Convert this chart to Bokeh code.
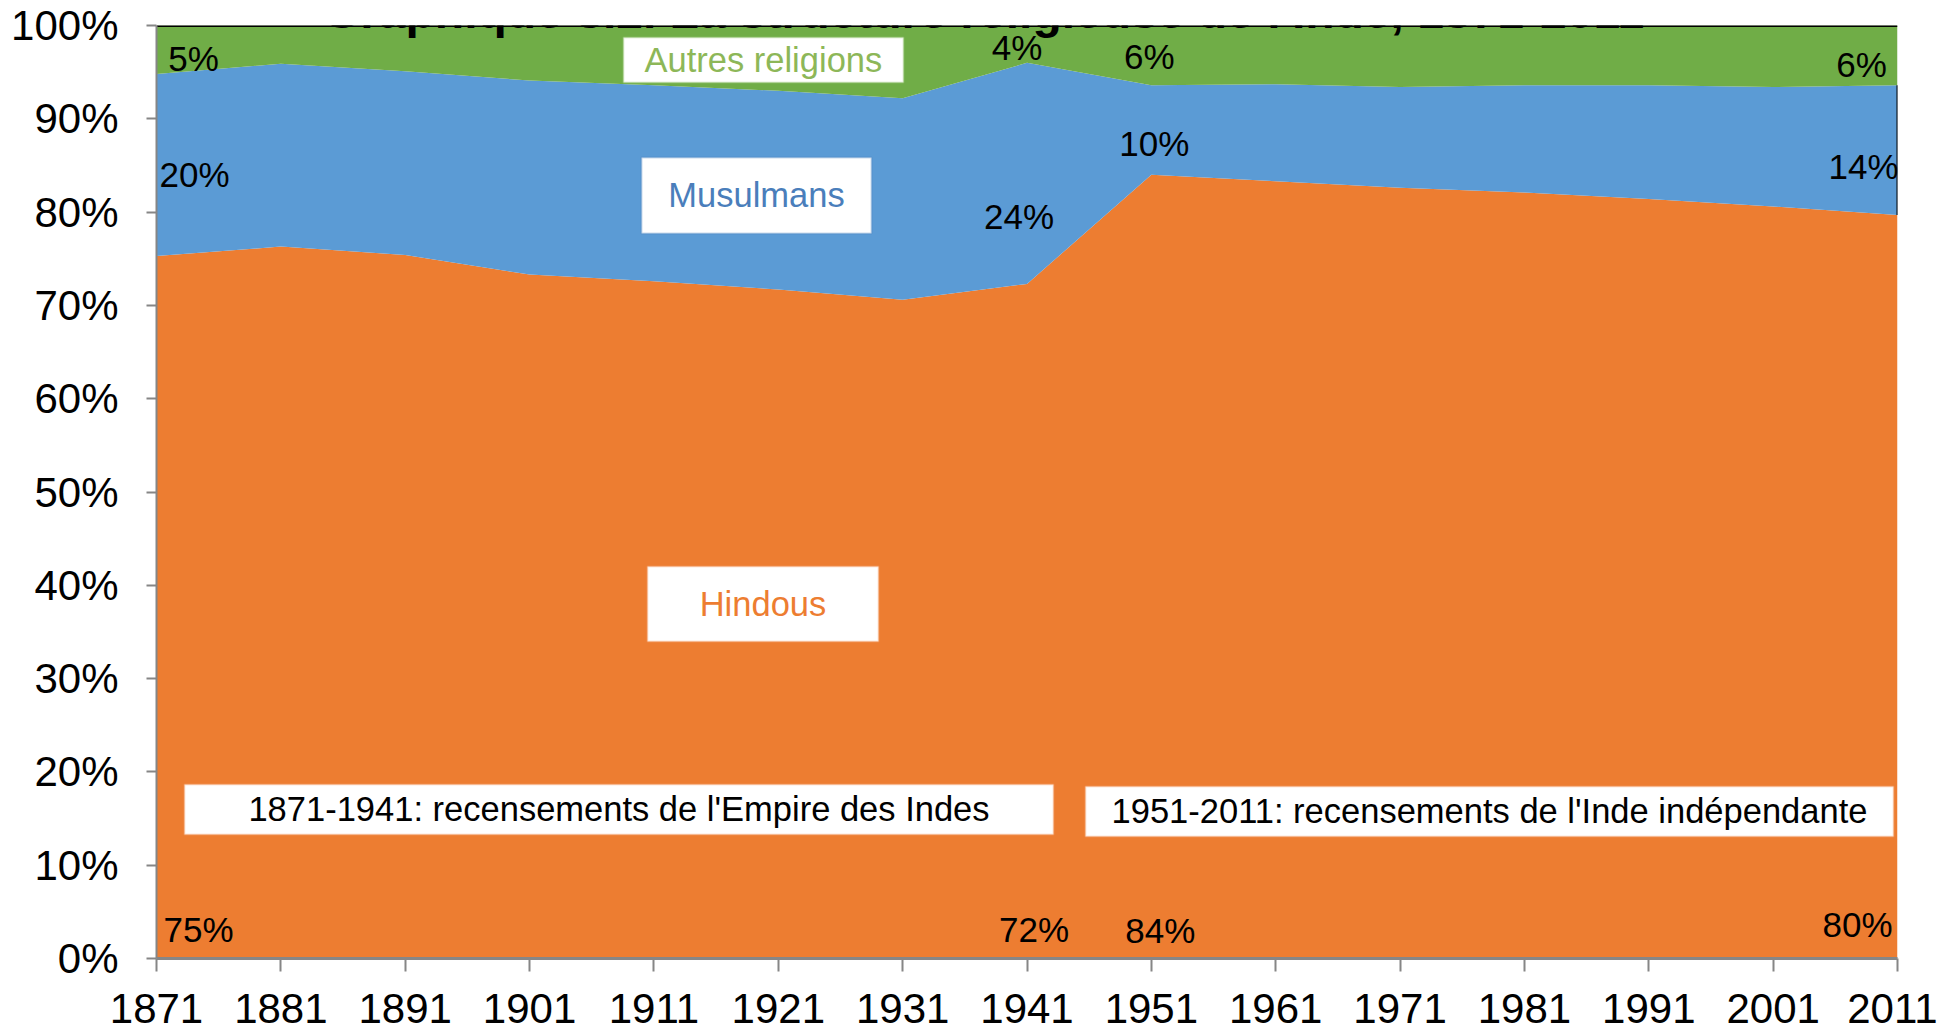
from bokeh.plotting import figure
from bokeh.models import (ColumnDataSource, FixedTicker, PrintfTickFormatter, Range1d,
                          BoxAnnotation, Label)
from bokeh.core.properties import value
from bokeh.embed import file_html
from bokeh.resources import INLINE

# ---------------- data ----------------
years = [1871, 1881, 1891, 1901, 1911, 1921, 1931, 1941, 1951, 1961, 1971, 1981, 1991, 2001, 2011]
hindous = [75.3, 76.3, 75.4, 73.3, 72.6, 71.7, 70.6, 72.3, 84.0, 83.3, 82.6, 82.1, 81.4, 80.6, 79.7]
musulmans = [19.5, 19.6, 19.7, 20.8, 21.0, 21.3, 21.6, 23.7, 9.6, 10.4, 10.8, 11.5, 12.2, 12.8, 13.9]
autres = [5.2, 4.1, 4.9, 5.9, 6.4, 7.0, 7.8, 4.0, 6.4, 6.3, 6.6, 6.4, 6.4, 6.6, 6.4]
label_years = [1871, 1941, 1951, 2011]
y_ticks = [0, 10, 20, 30, 40, 50, 60, 70, 80, 90, 100]

title_text = "Graphique 8.2. La structure religieuse de l'Inde, 1871-2011"
series_names = ["Hindous", "Musulmans", "Autres religions"]
period_texts = ["1871-1941: recensements de l'Empire des Indes",
                "1951-2011: recensements de l'Inde indépendante"]

ORANGE = "#ED7D31"
BLUE = "#5B9BD5"
GREEN = "#70AD47"
FONT = "Liberation Sans"

src = ColumnDataSource(dict(year=years, h=hindous, m=musulmans, o=autres))

p = figure(width=1945, height=1048, frame_width=1741, frame_height=933,
           output_backend="svg", toolbar_location=None,
           x_range=Range1d(1871, 2011), y_range=Range1d(0, 100),
           min_border_left=164, min_border_right=40, min_border_top=33, min_border_bottom=82,
           margin=(-8, -8, -8, -8))
p.outline_line_color = None
p.background_fill_color = "white"
p.border_fill_color = "white"
p.xgrid.visible = False
p.ygrid.visible = False

p.varea_stack(["h", "m", "o"], x="year", source=src, color=[ORANGE, BLUE, GREEN])

# series edges as in original (top black edge, right edge of muslim band)
tops = [h + m + o for h, m, o in zip(hindous, musulmans, autres)]
p.line(years, tops, line_color="black", line_width=3)
p.segment(x0=[years[-1]], y0=[hindous[-1]], x1=[years[-1]], y1=[hindous[-1] + musulmans[-1]],
          line_color="black", line_width=2)

# axes
p.xaxis.ticker = FixedTicker(ticks=years)
p.yaxis.ticker = FixedTicker(ticks=y_ticks)
p.yaxis.formatter = PrintfTickFormatter(format="%d%%")
for ax in (p.xaxis, p.yaxis):
    ax.axis_line_color = "#868686"
    ax.axis_line_width = 2
    ax.major_tick_line_color = "#868686"
    ax.major_tick_line_width = 2
    ax.minor_tick_line_color = None
    ax.major_tick_in = 0
    ax.major_label_text_font = FONT
    ax.major_label_text_font_size = "42px"
    ax.major_label_text_color = "black"
p.xaxis.major_tick_out = 13
p.xaxis.major_label_standoff = 22
p.xaxis.axis_line_width = 3
p.yaxis.major_tick_out = 10
p.yaxis.major_label_standoff = 28

# percentage labels derived from data
idx = [years.index(y) for y in label_years]
lx, ly, lt, xo, yo = [], [], [], [], []
h_xoff = [42, 7, 9, -40]
h_yoff = [-29, -29, -28, -34]
m_xoff = [38, -8, 3, -34]
m_yoff = [10, 43, 14, 16]
o_xoff = [37, -10, -2, -36]
o_yoff = [9, 3, 1, 9]
for k, i in enumerate(idx):
    h, m, o = hindous[i], musulmans[i], autres[i]
    lx += [years[i]] * 3
    ly += [0, h + m / 2, h + m + o / 2]
    lt += ["%d%%" % round(h), "%d%%" % round(m), "%d%%" % round(o)]
    xo += [h_xoff[k], m_xoff[k], o_xoff[k]]
    yo += [h_yoff[k], m_yoff[k], o_yoff[k]]
lsrc = ColumnDataSource(dict(x=lx, y=ly, t=lt, xo=xo, yo=yo))
p.text(x="x", y="y", text="t", x_offset="xo", y_offset="yo", source=lsrc,
       text_font=value(FONT), text_font_size="35px", text_color="black",
       text_align="center", text_baseline="middle")

# boxed labels
boxes = [
    (1908.55, 1931.07, 98.71, 93.89, "#A9D18E", series_names[2], 1919.8, 96.3, "#8DB758"),
    (1910.0, 1928.5, 85.85, 77.71, "#4A7EBB", series_names[1], 1919.25, 81.78, "#4A7EBB"),
    (1910.48, 1929.06, 42.02, 33.98, "#F4B183", series_names[0], 1919.77, 38.0, ORANGE),
    (1873.25, 1943.13, 18.65, 13.29, "#F4B183", period_texts[0], 1908.19, 15.97, "black"),
    (1945.70, 2010.68, 18.44, 13.08, "#F4B183", period_texts[1], 1978.19, 15.76, "black"),
]
for left, right, top, bottom, bc, txt, tx, ty, tc in boxes:
    p.add_layout(BoxAnnotation(left=left, right=right, top=top, bottom=bottom,
                               fill_color="white", fill_alpha=1.0,
                               line_color=bc, line_width=2, level="overlay"))
    p.add_layout(Label(x=tx, y=ty, text=txt, text_font=FONT, text_font_size="34.5px",
                       text_color=tc, text_align="center", text_baseline="middle",
                       level="overlay"))

# title (partially cut off at the top edge of the page, as in the source)
p.add_layout(Label(x=1937.5, y=101.5, text=title_text, text_font=FONT,
                   text_font_size="48px", text_font_style="bold", text_color="black",
                   text_align="center", text_baseline="alphabetic"))

open("out.html", "w").write(file_html(p, INLINE))
